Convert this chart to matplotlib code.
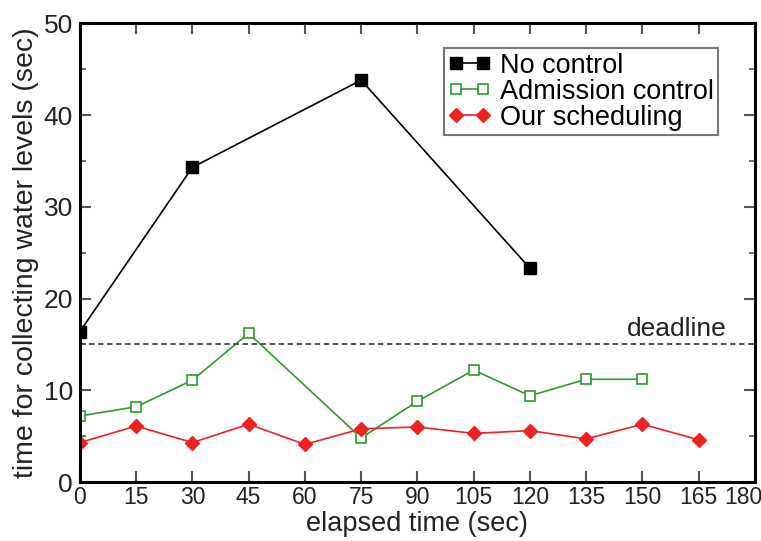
import matplotlib
matplotlib.use('Agg')
import matplotlib.pyplot as plt
import matplotlib.transforms as mtransforms
from matplotlib import font_manager
import numpy as np

plt.rcParams['font.family'] = ['Liberation Sans', 'DejaVu Sans']

# datos
t_no = [0, 30, 75, 120]
no_control = [16.4, 34.3, 43.8, 23.3]

t_adm = [0, 15, 30, 45, 75, 90, 105, 120, 135, 150]
admission = [7.2, 8.2, 11.1, 16.2, 4.8, 8.8, 12.2, 9.4, 11.2, 11.2]

t_our = [0, 15, 30, 45, 60, 75, 90, 105, 120, 135, 150, 165]
our_sched = [4.3, 6.1, 4.3, 6.3, 4.1, 5.8, 6.0, 5.3, 5.6, 4.7, 6.3, 4.6]

deadline = 15
x_ticks = np.arange(0, 181, 15)
y_ticks = np.arange(0, 51, 10)

# fuente estrecha para los numeros del eje x si existe
try:
    font_manager.findfont('Liberation Sans Narrow', fallback_to_default=False)
    xfam = 'Liberation Sans Narrow'
    xsize = 19
except ValueError:
    xfam = 'Liberation Sans'
    xsize = 16.5

fig = plt.figure(figsize=(7.61, 5.41), dpi=100)
ax = fig.add_axes([0.105, 0.109, 0.887, 0.848])

ax.plot(t_no, no_control, color='black', lw=1.2, marker='s', ms=8.5,
        mfc='black', mec='black', label='No control')
ax.plot(t_adm, admission, color='#2f9a2f', lw=1.2, marker='s', ms=7.5,
        mfc='white', mec='#2f9a2f', mew=1.2, label='Admission control')
ax.plot(t_our, our_sched, color='#ee2222', lw=1.2, marker='D', ms=7.5,
        mfc='#ee2222', mec='#ee2222', label='Our scheduling')

ax.axhline(deadline, color='#444444', lw=1.3, ls=(0, (3, 2)))
ax.text(172.5, 15.9, 'deadline', ha='right', va='baseline', fontsize=19,
        color='#222222')

ax.set_xlim(0, 180)
ax.set_ylim(0, 50)
ax.set_xticks(x_ticks)
ax.set_yticks(y_ticks)
ax.set_yticks(np.arange(5, 50, 10), minor=True)
ax.tick_params(which='both', direction='in', top=True, right=True,
               labelsize=19, color='#555555', labelcolor='#222222')
ax.tick_params(axis='x', pad=3, labelsize=xsize)
ax.tick_params(axis='y', pad=5)
ax.tick_params(which='major', length=8, width=1.5)
ax.tick_params(which='minor', length=4, width=1.2)
for s in ax.spines.values():
    s.set_linewidth(2.2)

ax.set_xlabel('elapsed time (sec)', fontsize=19.5, labelpad=1, color='#222222')
ax.set_ylabel('time for collecting water levels (sec)', fontsize=20.5,
              labelpad=3, color='#222222')

leg = ax.legend(loc='upper right', bbox_to_anchor=(0.945, 0.945), numpoints=2,
                fontsize=19.5, frameon=True, fancybox=False, handlelength=1.6,
                handletextpad=0.3, borderpad=0.15, labelspacing=0.0,
                borderaxespad=0)
leg.get_frame().set_edgecolor('#555555')
leg.get_frame().set_linewidth(1.5)

fig.canvas.draw()
for tk in ax.xaxis.get_major_ticks():
    tk.label1.set_fontfamily(xfam)
# el ultimo rotulo del eje x queda pegado al borde
last = ax.xaxis.get_major_ticks()[-1].label1
last.set_transform(last.get_transform() +
                   mtransforms.ScaledTranslation(-12 / 100, 0, fig.dpi_scale_trans))

plt.savefig('out.png', dpi=100)
